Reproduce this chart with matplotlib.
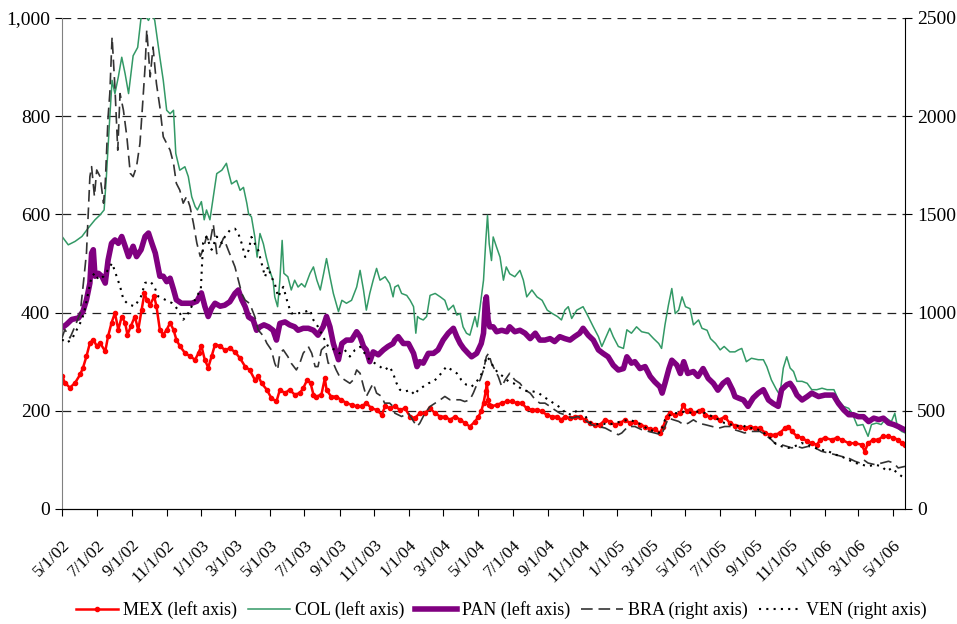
import matplotlib
matplotlib.use("Agg")
import matplotlib.pyplot as plt
import pandas as pd

plt.rcParams['font.family'] = ['Liberation Serif', 'DejaVu Serif']

start = pd.Timestamp("2002-05-01")

# days since 5/1/02
mex_t = [0, 5, 14, 23, 32, 37, 43, 49, 55, 61, 67, 76, 81, 87, 93, 99, 105, 111, 115, 121, 128, 134, 140, 145, 149,
         155, 162, 166, 172, 178, 184, 190, 196, 201, 207, 216, 225, 234, 240, 245, 251, 257, 263, 269, 278,
         286, 295, 304, 313, 322, 330, 339, 345, 351, 360, 368, 377, 383, 392, 400, 409, 418, 424, 431, 437, 442,
         447, 456, 462, 465, 473, 482, 491, 500, 509, 518, 527, 535, 544, 553, 562, 568, 577,
         585, 594, 603, 612, 620, 629, 638, 647, 656, 665, 673, 682, 691, 700, 708, 717, 726, 732, 737, 741, 745,
         747, 749, 751, 755, 764, 773, 782, 791, 799, 808, 817, 826, 835, 843, 852, 861, 870, 878,
         884, 893, 901, 910, 919, 928, 937, 946, 955, 963, 972, 981, 990, 998, 1007, 1016, 1025, 1034, 1042, 1051,
         1057, 1063, 1068, 1077, 1087, 1092, 1098, 1104, 1110, 1119, 1125, 1130, 1139, 1148, 1156, 1165, 1174,
         1183, 1192, 1200, 1209, 1218, 1227, 1236, 1244, 1253, 1262, 1271, 1277, 1283, 1292, 1301, 1310, 1318,
         1327, 1333, 1341, 1353, 1362, 1371, 1383, 1394, 1406, 1411, 1417, 1426, 1435, 1443, 1452, 1461, 1470,
         1476, 1482]
mex_v = [271, 257, 247, 257, 274, 288, 311, 338, 345, 332, 338, 321, 352, 379, 399, 365, 392, 379, 355, 372, 392, 365,
         406, 440, 426, 416, 433, 413, 365, 355, 365, 379, 365, 345, 332, 318, 311, 304, 318, 332, 304, 288, 311, 335,
         332, 324, 327, 320, 307, 290, 283, 263, 270, 256, 243, 226, 219, 243, 236, 243, 233, 236, 246, 263, 256, 233,
         229, 233, 266, 243, 229, 229, 222, 216, 212, 209, 209, 216, 205, 202, 192, 209, 205,
         209, 202, 205, 188, 185, 195, 195, 205, 195, 188, 188, 182, 188, 182, 175, 168, 178, 188, 199, 216, 240,
         257, 222, 212, 209, 212, 216, 219, 219, 216, 216, 205, 202, 202, 199, 192, 188, 188, 182,
         188, 185, 188, 188, 182, 175, 172, 172, 182, 178, 172, 175, 182, 175, 178, 172, 168, 162, 162, 155,
         168, 188, 195, 192, 195, 212, 199, 202, 195, 199, 202, 192, 188, 188, 182, 188, 175,
         170, 168, 165, 168, 165, 165, 155, 151, 151, 155, 165, 168, 158, 148, 145, 138, 134,
         131, 141, 145, 141, 145, 141, 134, 134, 131, 117, 134, 141, 141, 148, 148, 145, 141, 134, 131]

col_t = [0, 11, 23, 35, 46, 58, 67, 74, 78, 84, 88, 93, 99, 105, 111, 117, 125, 133, 139, 143, 149, 152, 158, 163,
         172, 178, 184, 190, 196, 200, 207, 216, 222, 228, 234, 238, 245, 250, 254, 260, 266, 272, 281, 289,
         292, 298, 307, 313, 319, 325, 328, 333, 339, 343, 348, 354, 359, 365, 371, 374, 379, 383, 387, 390, 397,
         403, 409, 415, 421, 427, 436, 442, 448, 454, 460, 465, 471, 477, 486, 492, 500, 509, 518, 524, 530, 535,
         541, 547, 553, 559, 568, 576, 582,
         585, 591, 597, 606, 612, 618, 622, 625, 629, 635, 641, 647, 656, 665, 673, 679, 688, 694, 700, 705, 711,
         717, 721, 726, 730, 735, 741, 745, 748, 751, 755, 758, 764, 770, 776, 781, 787, 796, 805, 811, 817, 826,
         835, 844, 853, 862, 871, 878,
         884, 890, 896, 905, 916, 925, 934, 943, 949, 955, 963, 969, 978, 987, 993, 1001, 1010, 1019, 1031, 1040,
         1049, 1054, 1060, 1066, 1072, 1078, 1084, 1090, 1096, 1104, 1110, 1119, 1125, 1134, 1140, 1149, 1157,
         1164, 1174,
         1183, 1189, 1195, 1203, 1212, 1224, 1233, 1239, 1247, 1256, 1262, 1268, 1274, 1280, 1286, 1292, 1301,
         1310, 1318, 1327, 1336, 1345, 1357, 1365, 1374, 1383, 1389, 1398, 1408, 1417, 1423, 1432, 1440, 1449,
         1458, 1464, 1469, 1476, 1482]
col_v = [555, 538, 545, 555, 572, 589, 599, 609, 677, 798, 873, 846, 880, 920, 886, 846, 923, 940, 1001, 1030, 1000,
         995, 1010, 995, 920, 873, 812, 805, 812, 724, 690, 697, 677, 636, 616, 609, 626, 589, 609, 589, 636, 683,
         690, 704, 689, 662, 669, 649, 655, 622, 601, 595, 554, 513, 561, 540, 513, 486, 466, 432, 412, 466, 547,
         480, 473, 446, 466, 452, 459, 452, 480, 493, 466, 446, 480, 510, 473, 439, 402, 425, 419, 425, 452, 486,
         446, 405, 439, 466, 490, 466, 473, 459, 432,
         452, 456, 439, 435, 425, 412, 358, 392, 388, 385, 392, 435, 439, 432, 425, 405, 415, 395, 398, 371, 358,
         354, 371, 392, 371, 412, 466, 547, 598, 540, 506, 554, 533, 513, 466, 493, 479, 473, 486, 466, 432, 446,
         432, 425, 405, 398, 392, 385,
         405, 412, 388, 405, 412, 392, 371, 351, 331, 347, 368, 351, 331, 327, 365, 358, 371, 361, 358, 347,
         337, 327, 375, 415, 449, 398, 405, 432, 412, 408, 375, 385, 368, 364, 347, 337, 324, 331, 320,
         320, 324, 327, 300, 307, 304, 304, 290, 263, 243, 232, 287, 310, 287, 280, 260, 260,
         256, 243, 243, 246, 243, 243, 222, 209, 205, 195, 170, 172, 148, 172, 175, 172, 185,
         178, 195, 165, 158, 155]

pan_t = [0, 8, 17, 29, 37, 43, 49, 52, 55, 58, 64, 70, 76, 81, 87, 93, 99, 105, 111, 117, 125, 131, 139, 146, 152,
         158, 164, 172, 178, 184, 190, 196, 201, 210, 219, 228, 237, 245, 251, 257, 263, 269, 278,
         286, 295, 304, 310, 316, 322, 328, 336, 342, 348, 355, 363, 371, 377, 383, 392, 400, 409, 415, 424, 433,
         442, 450, 459, 465, 471, 477, 486, 492, 500, 509, 518, 524, 530, 535, 541, 547, 556, 565, 573, 582,
         585, 591, 600, 609, 618, 624, 629, 635, 644, 653, 661, 670, 679, 688, 694, 700, 706, 714, 720, 729, 737,
         741, 744, 746, 749, 752, 758, 764, 773, 782, 787, 796, 805, 814, 823, 832, 840, 849, 858, 866, 875,
         884, 893, 901, 910, 916, 925, 934, 943, 951, 960, 969, 978, 987, 993, 1001, 1007, 1016, 1025, 1034, 1042,
         1051, 1055, 1060, 1067, 1072, 1081, 1087, 1093, 1100, 1110, 1118, 1127, 1136, 1145, 1153, 1162, 1170,
         1179, 1183, 1189, 1198, 1206, 1215, 1224, 1233, 1242, 1250, 1259, 1265, 1274, 1280, 1286, 1292, 1301,
         1310, 1318, 1330, 1341, 1356, 1365, 1374, 1383, 1391, 1400, 1409, 1418, 1427, 1436, 1444, 1453, 1462,
         1470, 1482]
pan_v = [369, 376, 386, 389, 403, 426, 460, 521, 528, 474, 480, 474, 460, 507, 541, 548, 541, 555, 535, 514, 535, 514,
         528, 555, 562, 541, 521, 474, 474, 463, 470, 447, 426, 419, 419, 419, 423, 440, 413, 392, 409, 419, 413,
         415, 422, 439, 446, 426, 412, 391, 385, 364, 371, 375, 371, 364, 344, 378, 381, 375, 371, 364, 368, 368,
         364, 354, 371, 392, 371, 337, 304, 337, 344, 344, 361, 351, 331, 324, 300, 320, 314, 324, 331, 337,
         344, 351, 337, 337, 317, 290, 300, 297, 317, 317, 324, 344, 358, 368, 351, 337, 327, 317, 310, 317, 337,
         358, 419, 432, 385, 371, 371, 361, 364, 361, 371, 361, 364, 358, 347, 358, 344, 344, 347, 341, 351,
         347, 344, 351, 358, 368, 354, 344, 324, 317, 310, 293, 283, 286, 310, 297, 300, 286, 290, 270, 259,
         249, 236, 256, 286, 303, 293, 276, 300, 276, 280, 270, 286, 266, 256, 242, 256, 263,
         242, 229, 226, 222, 209, 226, 236, 243, 222, 215, 209, 243, 253, 256, 246, 232, 222,
         229, 236, 229, 232, 232, 215, 202, 192, 192, 188, 188, 178, 185, 182, 185, 175, 172,
         168, 161]

bra_t = [0, 5, 14, 23, 32, 37, 43, 49, 52, 57, 61, 67, 73, 76, 81, 84, 88, 93, 98, 102, 108, 114, 120, 125, 131, 137,
         141, 146, 149, 155, 160, 166, 172, 178, 184, 190, 196, 201, 207, 213, 219, 225, 231, 237, 243, 248, 254,
         260, 266, 272, 278, 284, 292,
         304, 310, 316, 322, 330, 339, 345, 355, 360, 368, 374, 379, 383, 389, 397, 403, 412, 418, 424, 433, 439,
         445, 450, 456, 462, 468, 477, 482, 488, 497, 506, 512, 518, 524, 530, 535, 541, 547, 553, 562, 567, 576,
         582,
         585, 597, 609, 618, 624, 629, 638, 647, 656, 665, 673, 682, 691, 700, 708, 717, 723, 729, 735, 741, 746,
         750, 755, 761, 767, 773, 779, 787, 796, 805, 814, 823, 832, 840, 849, 858, 866, 875,
         884, 896, 907, 919, 931, 943, 955, 966, 978, 984, 995, 1007, 1019, 1031, 1042, 1054, 1060, 1066, 1075,
         1084, 1093, 1101, 1110, 1119, 1131, 1143, 1155, 1165, 1177,
         1183, 1192, 1200, 1209, 1218, 1227, 1236, 1247, 1256, 1265, 1274, 1283, 1292, 1301, 1312, 1324, 1335,
         1347, 1359, 1370, 1382, 1394, 1403, 1409, 1417, 1429, 1441, 1453, 1462, 1470, 1482]
bra_v = [871, 914, 871, 931, 998, 1134, 1303, 1692, 1743, 1591, 1726, 1692, 1557, 1658, 1997, 2115, 2403, 2149, 1827,
         2115, 2030, 1895, 1709, 1692, 1743, 1861, 2030, 2250, 2440, 2200, 2352, 2166, 2047, 1895, 1861, 1827,
         1760, 1658, 1624, 1557, 1591, 1540, 1455, 1354, 1286, 1320, 1387, 1354, 1450, 1300, 1340, 1380, 1320,
         1233, 1165, 1097, 1063, 1046, 979, 911, 877, 844, 810, 742, 708, 793, 810, 776, 742, 708, 742, 793, 827,
         793, 725, 725, 810, 827, 742, 742, 708, 674, 657, 640, 657, 708, 691, 624, 573, 607, 640, 590, 573, 539,
         539, 522,
         488, 471, 488, 446, 420, 437, 488, 522, 539, 556, 573, 556, 556, 556, 547, 556, 590, 632, 657, 708, 776,
         793, 742, 708, 674, 623, 657, 691, 657, 640, 606, 590, 556, 539, 539, 522, 505, 488,
         480, 463, 471, 454, 429, 420, 412, 395, 378, 387, 420, 420, 404, 395, 387, 378, 420, 463, 454,
         446, 429, 437, 454, 437, 429, 420, 412, 420, 420,
         403, 395, 387, 395, 395, 395, 378, 353, 327, 327, 319, 311, 319, 311, 319, 311, 294,
         285, 277, 268, 260, 243, 234, 251, 234, 226, 234, 243, 234, 209, 217]

ven_t = [0, 8, 17, 26, 35, 40, 46, 52, 58, 64, 73, 81, 88, 96, 102, 108, 117, 128, 139, 146, 155, 162, 169, 181, 193,
         204, 213, 219, 228, 237, 244, 248, 254, 263, 272, 281,
         286, 295, 304, 310, 316, 322, 328, 333, 339, 345, 351, 357, 362, 368, 374, 380, 389, 397, 403, 415, 427,
         436, 442, 450, 459, 468, 480, 488, 497, 506, 515, 524, 532, 541, 550, 559, 567, 576, 582, 588, 594,
         603, 612, 620, 626, 635, 644, 653, 662, 671, 676, 685, 694, 702, 711, 720, 729, 735, 741, 746, 752, 758,
         767, 776, 785, 794, 802, 811, 820, 829, 838, 846, 855, 864, 873, 881,
         884, 896, 907, 916, 925, 937, 948, 960, 972, 983, 995, 1007, 1019, 1031, 1043, 1052, 1060, 1072, 1084,
         1096, 1108, 1119, 1131, 1143, 1155, 1165, 1177,
         1183, 1195, 1206, 1218, 1230, 1242, 1253, 1265, 1277, 1288, 1300, 1312, 1324, 1335, 1347, 1359, 1370,
         1382, 1394, 1406, 1417, 1429, 1441, 1450, 1459, 1468, 1476, 1482]
ven_v = [863, 846, 863, 914, 964, 1015, 1100, 1184, 1201, 1168, 1184, 1218, 1252, 1184, 1134, 1066, 1041, 1032, 1083,
         1151, 1159, 1134, 1083, 1066, 1049, 1015, 964, 981, 1032, 1083, 1117, 1354, 1387, 1320, 1387, 1354,
         1385, 1419, 1427, 1402, 1351, 1283, 1317, 1385, 1351, 1317, 1250, 1182, 1233, 1182, 1148, 1080, 1131,
         1046, 996, 996, 1004, 1013, 962, 928, 877, 826, 810, 793, 810, 776, 810, 826, 793, 759, 742, 725, 708,
         725, 691, 641, 607,
         598, 606, 581, 606, 623, 640, 649, 674, 708, 725, 708, 691, 657, 632, 623, 649, 674, 708, 776, 759, 725,
         691, 674, 649, 640, 623, 606, 598, 598, 590, 573, 556, 539, 522, 505,
         488, 480, 505, 497, 446, 429, 437, 429, 437, 446, 454, 446, 429, 404, 395, 387, 454, 488, 488,
         497, 488, 497, 488, 471, 454, 437, 429,
         420, 429, 412, 412, 395, 370, 336, 319, 311, 319, 336, 327, 311, 302, 294, 277, 268,
         251, 235, 226, 217, 226, 217, 192, 209, 184, 167, 158]

tick_labels = ["5/1/02", "7/1/02", "9/1/02", "11/1/02", "1/1/03", "3/1/03", "5/1/03", "7/1/03", "9/1/03",
               "11/1/03", "1/1/04", "3/1/04", "5/1/04", "7/1/04", "9/1/04", "11/1/04", "1/1/05", "3/1/05",
               "5/1/05", "7/1/05", "9/1/05", "11/1/05", "1/1/06", "3/1/06", "5/1/06"]
left_ticks = [0, 200, 400, 600, 800, 1000]
left_labels = ["0", "200", "400", "600", "800", "1,000"]
right_ticks = [0, 500, 1000, 1500, 2000, 2500]


def to_dates(days):
    return start + pd.to_timedelta(days, unit="D")


fig = plt.figure(figsize=(9.57, 6.24), dpi=100)
ax1 = fig.add_axes([0.0648, 0.1843, 0.8809, 0.7869])
ax2 = ax1.twinx()

for y in left_ticks[1:]:
    ax1.axhline(y, color='#222222', lw=0.9, dashes=(7, 5), zorder=0)

l1, = ax1.plot(to_dates(mex_t), mex_v, color='red', lw=1.8, marker='o', ms=3, label='MEX (left axis)')
l2, = ax1.plot(to_dates(col_t), col_v, color='#339966', lw=1.1, label='COL (left axis)')
l3, = ax1.plot(to_dates(pan_t), pan_v, color='#800080', lw=4, label='PAN (left axis)')
l4, = ax2.plot(to_dates(bra_t), bra_v, color='#333333', lw=1.2, dashes=(7, 3.5), label='BRA (right axis)')
l5, = ax2.plot(to_dates(ven_t), ven_v, color='black', lw=1.5, dashes=(1, 2.5), label='VEN (right axis)')

ax1.set_xlim(start, start + pd.Timedelta(days=1482))
ax1.set_ylim(0, 1000)
ax2.set_ylim(0, 2500)

ticks = pd.date_range("2002-05-01", "2006-05-01", freq="2MS")
ax1.set_xticks(ticks)
ax1.set_xticklabels(tick_labels, rotation=45, ha='right', rotation_mode='anchor', fontsize=12.5)
ax1.tick_params(axis='x', length=5, pad=15, direction='out')

ax1.set_yticks(left_ticks)
ax1.set_yticklabels(left_labels, fontsize=14)
ax2.set_yticks(right_ticks)
ax2.set_yticklabels([str(t) for t in right_ticks], fontsize=14)
ax1.tick_params(axis='y', length=5, direction='out')
ax2.tick_params(axis='y', length=5, direction='out')

for ax in (ax1, ax2):
    ax.spines['top'].set_visible(False)
ax1.spines['left'].set_color('#808080')
ax2.spines['left'].set_visible(False)
ax1.spines['right'].set_visible(False)

fig.legend(handles=[l1, l2, l3, l4, l5], loc='center', bbox_to_anchor=(0.524, 0.022), ncol=5,
           frameon=False, fontsize=13, handlelength=2.3, handletextpad=0.3, columnspacing=0.6,
           numpoints=1, borderpad=0)

fig.savefig("out.png", dpi=100)
